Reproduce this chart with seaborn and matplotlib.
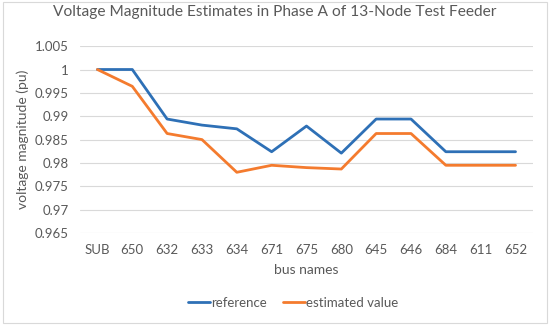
import pandas as pd
import seaborn as sns
import matplotlib.pyplot as plt
from matplotlib.patches import Rectangle

# bus names and voltage values
buses = ['SUB', '650', '632', '633', '634', '671', '675', '680',
         '645', '646', '684', '611', '652']
reference = [1.0, 1.0, 0.9894, 0.9881, 0.9873, 0.9824, 0.9879, 0.9821,
             0.9894, 0.9894, 0.9824, 0.9824, 0.9824]
estimated = [1.0, 0.9964, 0.9863, 0.9850, 0.9780, 0.9795, 0.9790, 0.9787,
             0.9863, 0.9863, 0.9795, 0.9795, 0.9795]
yticks = [0.965, 0.97, 0.975, 0.98, 0.985, 0.99, 0.995, 1, 1.005]

df = pd.concat([
    pd.DataFrame({'bus': buses, 'v': reference, 'series': 'reference'}),
    pd.DataFrame({'bus': buses, 'v': estimated, 'series': 'estimated value'}),
])

sns.set_style('white')
plt.rcParams['font.family'] = ['Lato', 'DejaVu Sans']
grey = '#595959'

fig = plt.figure(figsize=(5.5, 3.25), dpi=100)
ax = fig.add_axes([0.1455, 0.283, 0.8235, 0.575])

sns.lineplot(data=df, x='bus', y='v', hue='series', sort=False,
             palette={'reference': '#2E70B6', 'estimated value': '#F47B2E'},
             linewidth=2, ax=ax)

ax.set_xlim(-0.5, len(buses) - 0.5)
ax.set_ylim(0.965, 1.005)
ax.set_yticks(yticks)
ax.set_yticklabels([f'{t:g}' for t in yticks])
ax.grid(axis='y', color='#d9d9d9', linewidth=0.8)
ax.set_axisbelow(True)
for s in ax.spines.values():
    s.set_visible(False)
ax.tick_params(axis='both', length=0, labelsize=9.5, colors=grey, pad=8)

ax.set_xlabel('bus names', fontsize=10, color=grey, labelpad=6)
ax.set_ylabel('voltage magnitude (pu)', fontsize=10, color=grey, labelpad=4)
fig.suptitle('Voltage Magnitude Estimates in Phase A of 13-Node Test Feeder',
             x=0.5, y=0.963, va='center', fontsize=11.2, color=grey)

sns.move_legend(ax, 'lower center', bbox_to_anchor=(0.47, -0.47), ncol=2,
                frameon=False, title=None, fontsize=9.5, handlelength=1.7,
                handletextpad=0.05, columnspacing=1.2)
for t in ax.get_legend().get_texts():
    t.set_color(grey)

# light chart border
fig.patches.append(Rectangle((0.006, 0.006), 0.988, 0.988, transform=fig.transFigure,
                             fill=False, edgecolor='#d9d9d9', linewidth=0.8))

fig.savefig('out.png', dpi=100)
